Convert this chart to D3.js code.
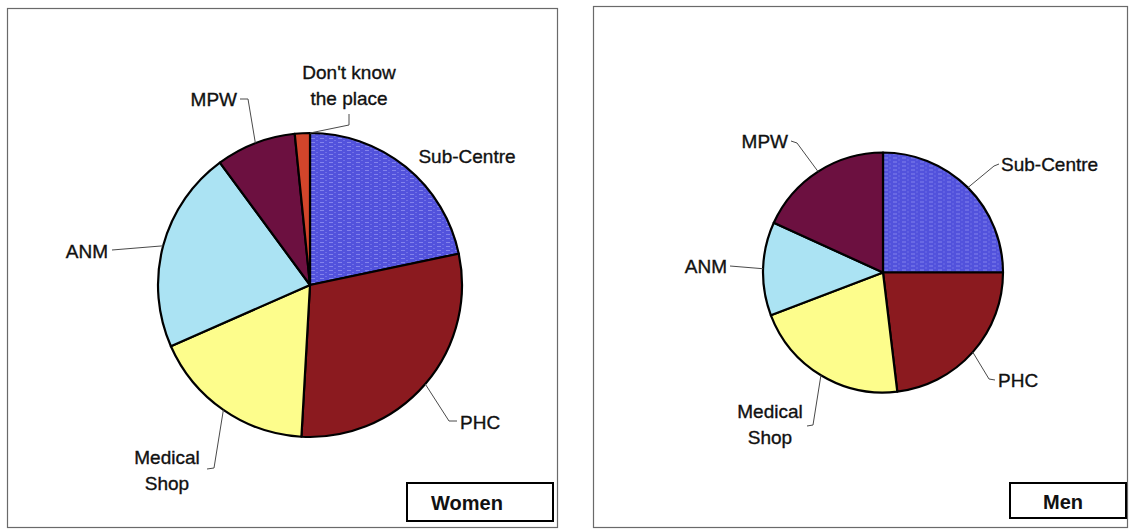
<!DOCTYPE html>
<html>
<head>
<meta charset="utf-8">
<script src="https://cdn.jsdelivr.net/npm/d3@7"></script>
<style>
  html, body { margin: 0; padding: 0; background: #ffffff; }
  svg { display: block; }
  text { font-family: "Liberation Sans", Arial, sans-serif; fill: #111; }
  text.lbl { stroke: #111; stroke-width: 0.35px; }
</style>
</head>
<body>
<svg id="chart" width="1129" height="529"></svg>
<script>
// ---------------- data ----------------
const categories = ["Sub-Centre", "PHC", "Medical Shop", "ANM", "MPW", "Don't know the place"];
const womenValues = [21.7, 29.2, 17.5, 21.5, 8.5, 1.6];
const menValues   = [25.0, 23.1, 21.1, 12.6, 18.2, 0];
const panelTitles = ["Women", "Men"];
const labelLines = {
  "Sub-Centre": ["Sub-Centre"],
  "PHC": ["PHC"],
  "Medical Shop": ["Medical", "Shop"],
  "ANM": ["ANM"],
  "MPW": ["MPW"],
  "Don't know the place": ["Don't know", "the place"]
};

// ---------------- styles / layout ----------------
const colors = ["url(#blueTex)", "#8b1a1f", "#fdfd8c", "#abe3f3", "#6c1040", "#d2452b"];
const color = d3.scaleOrdinal().domain(categories).range(colors);

const panels = [
  { title: panelTitles[0], values: womenValues,
    box: [7, 8, 557, 527], cx: 310, cy: 285, r: 152,
    legend: [407, 483, 553, 521], legendTextX: 467,
    labels: {
      "Sub-Centre": { tx: 157, ty: -129, anchor: "middle", lead: null },
      "PHC": { tx: 150, ty: 137, anchor: "start", lead: [[139, 136], [147, 136]] },
      "Medical Shop": { tx: -143, ty: 172, anchor: "middle", lead: [[-96, 183], [-103, 184]] },
      "ANM": { tx: -202, ty: -34, anchor: "end", lead: [[-198, -35]] },
      "MPW": { tx: -73, ty: -186, anchor: "end", lead: [[-62, -186], [-70, -186]] },
      "Don't know the place": { tx: 39, ty: -213, anchor: "middle", lead: [[39, -160], [39, -171]], edgeAngle: "end" }
    }
  },
  { title: panelTitles[1], values: menValues,
    box: [593, 6, 1127, 527], cx: 883, cy: 272.5, r: 120,
    legend: [1010, 483, 1126, 518], legendTextX: 1063,
    labels: {
      "Sub-Centre": { tx: 118, ty: -108.5, anchor: "start", lead: [[111, -106.5], [116, -108.5]] },
      "PHC": { tx: 115, ty: 107.5, anchor: "start", lead: [[106, 106.5], [112, 107.5]] },
      "Medical Shop": { tx: -113, ty: 138.5, anchor: "middle", lead: [[-70, 152.5], [-76, 153.5]] },
      "ANM": { tx: -156, ty: -6.5, anchor: "end", lead: [[-153, -6.5]] },
      "MPW": { tx: -95, ty: -131.5, anchor: "end", lead: [[-86, -129.5], [-92, -131.5]] },
      "Don't know the place": null
    }
  }
];

const svg = d3.select("#chart");

// texture for the blue Sub-Centre slice
const defs = svg.append("defs");
const pat = defs.append("pattern")
  .attr("id", "blueTex").attr("patternUnits", "userSpaceOnUse")
  .attr("width", 9).attr("height", 4);
pat.append("rect").attr("width", 9).attr("height", 4).attr("fill", "#5252dc");
pat.append("rect").attr("x", 1).attr("y", 1).attr("width", 4).attr("height", 1)
  .attr("fill", "#9090f0").attr("opacity", 0.8);
pat.append("rect").attr("x", 6).attr("y", 3).attr("width", 2).attr("height", 1)
  .attr("fill", "#7c7cea").attr("opacity", 0.7);

const pie = d3.pie().sort(null).value(d => d.value);

panels.forEach(p => {
  const [x0, y0, x1, y1] = p.box;
  svg.append("rect")
    .attr("x", x0 + 0.5).attr("y", y0 + 0.5)
    .attr("width", x1 - x0).attr("height", y1 - y0)
    .attr("fill", "#fff").attr("stroke", "#6a6a6a").attr("stroke-width", 1.2);

  const data = categories.map((c, i) => ({ cat: c, value: p.values[i] }));
  const arcs = pie(data).filter(a => a.data.value > 0);
  const arc = d3.arc().innerRadius(0).outerRadius(p.r);

  const g = svg.append("g").attr("transform", `translate(${p.cx},${p.cy})`);

  g.selectAll("path.slice").data(arcs).join("path")
    .attr("class", "slice")
    .attr("d", arc)
    .attr("fill", d => color(d.data.cat))
    .attr("stroke", "#000").attr("stroke-width", 2.2)
    .attr("stroke-linejoin", "round");

  // labels and leader lines
  arcs.forEach(a => {
    const L = p.labels[a.data.cat];
    if (!L) return;
    const ang = L.edgeAngle === "end" ? a.endAngle : (a.startAngle + a.endAngle) / 2;
    const edge = [p.r * Math.sin(ang), -p.r * Math.cos(ang)];
    if (L.lead) {
      const pts = [edge].concat(L.lead);
      g.append("path")
        .attr("d", d3.line()(pts))
        .attr("fill", "none").attr("stroke", "#4a4a4a").attr("stroke-width", 1);
    }
    const lines = labelLines[a.data.cat];
    const lh = 26;
    const t = g.append("text")
      .attr("class", "lbl")
      .attr("text-anchor", L.anchor)
      .attr("font-size", 19)
      .attr("dominant-baseline", "central");
    lines.forEach((ln, i) => {
      t.append("tspan").attr("x", L.tx).attr("y", L.ty + i * lh).text(ln);
    });
  });

  // title box
  const [lx0, ly0, lx1, ly1] = p.legend;
  svg.append("rect")
    .attr("x", lx0).attr("y", ly0)
    .attr("width", lx1 - lx0).attr("height", ly1 - ly0)
    .attr("fill", "#fff").attr("stroke", "#000").attr("stroke-width", 2);
  svg.append("text")
    .attr("x", p.legendTextX).attr("y", (ly0 + ly1) / 2 + 1)
    .attr("text-anchor", "middle").attr("dominant-baseline", "central")
    .attr("font-size", 20).attr("font-weight", "bold")
    .text(p.title);
});
</script>
</body>
</html>
